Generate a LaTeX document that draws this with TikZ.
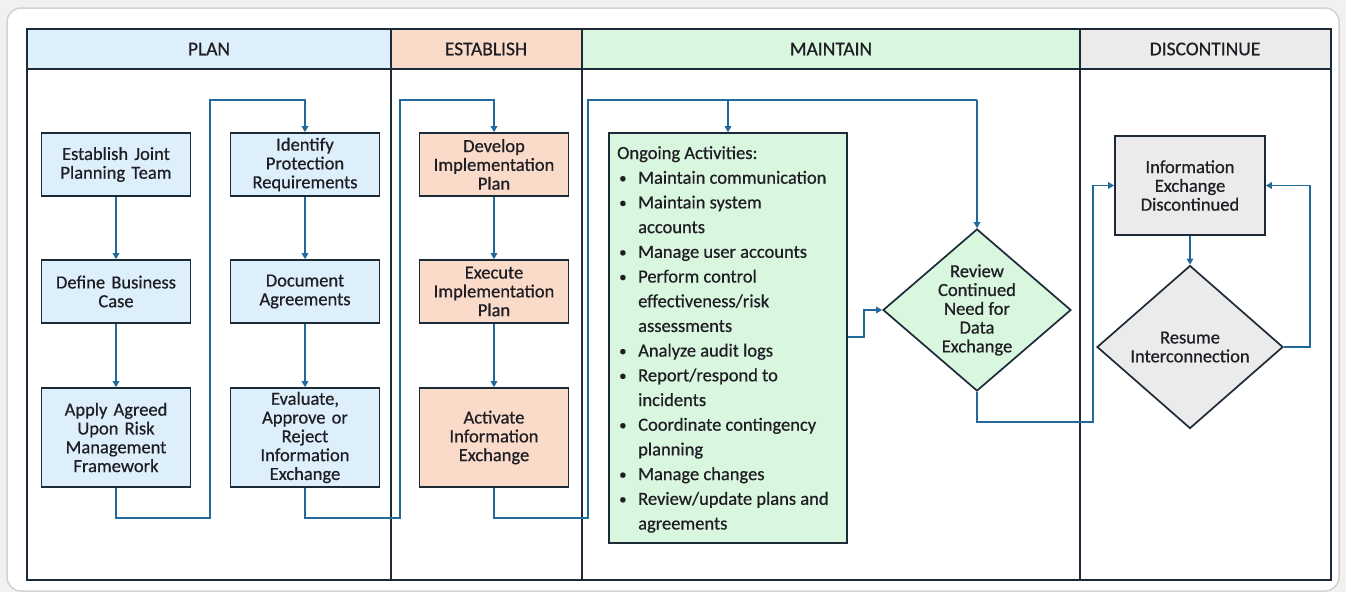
\documentclass[tikz,border=0pt]{standalone}
\usepackage{fontspec}
\setmainfont{Carlito}[FakeBold=0.6]
\usetikzlibrary{arrows.meta,shapes.geometric}
\definecolor{bord}{HTML}{1C2A38}
\definecolor{txt}{HTML}{1E1E24}
\definecolor{conn}{HTML}{21699A}
\definecolor{planc}{HTML}{DDEFFB}
\definecolor{estc}{HTML}{FADBCA}
\definecolor{maintc}{HTML}{D9F6DF}
\definecolor{discc}{HTML}{EBEBEB}
\definecolor{bgc}{HTML}{F1F1F1}
\definecolor{framec}{HTML}{D2D2D2}
\newcommand{\blt}{\hspace{2pt}\raisebox{0.8pt}{\scalebox{0.8}{\textbullet}}}
\begin{document}
\begin{tikzpicture}[x=1pt,y=-1pt,
  tbl/.style={draw=bord, line width=1.8pt},
  hdr/.style={font=\fontsize{19.5}{21}\selectfont, text=txt},
  boxbase/.style={draw=bord, line width=1.7pt, inner sep=1pt, align=center,
    font=\fontsize{18.5}{18.8}\selectfont, text=txt},
  box/.style={boxbase, rectangle, minimum width=149pt, minimum height=63pt, text width=145pt},
  tallbox/.style={box, minimum height=99pt},
  dia/.style={boxbase, diamond, inner sep=0pt},
  conn/.style={draw=conn, line width=1.7pt, -{Triangle[length=6pt,width=6.5pt]}},
  plainconn/.style={draw=conn, line width=1.7pt}]
\useasboundingbox (0,0) rectangle (1346,592);
\fill[bgc] (0,0) rectangle (1346,592);
\draw[framec, line width=1.5pt, fill=white, rounded corners=14pt] (7,8) rectangle (1339,591);
% header fills
\fill[planc] (27,29) rectangle (391,69);
\fill[estc] (391,29) rectangle (582,69);
\fill[maintc] (582,29) rectangle (1080,69);
\fill[discc] (1080,29) rectangle (1331,69);
\draw[tbl] (27,29) rectangle (1331,580);
\draw[tbl] (27,69) -- (1331,69);
\draw[tbl] (391,29) -- (391,580);
\draw[tbl] (582,29) -- (582,580);
\draw[tbl] (1080,29) -- (1080,580);
\node[hdr] (hplan) at (209,49) {PLAN};
\node[hdr] (hest) at (486,49) {ESTABLISH};
\node[hdr] (hmaint) at (831,49) {MAINTAIN};
\node[hdr] (hdisc) at (1205,49) {DISCONTINUE};
% PLAN
\node[box, fill=planc] (est) at (116,164.5) {Establish Joint\\Planning Team};
\node[box, fill=planc] (def) at (116,291.5) {Define Business\\Case};
\node[tallbox, fill=planc] (app) at (116,437.5) {Apply Agreed\\Upon Risk\\Management\\Framework};
\node[box, fill=planc] (idp) at (305,164.5) {Identify\\Protection\\Requirements};
\node[box, fill=planc] (doc) at (305,291.5) {Document\\Agreements};
\node[tallbox, fill=planc] (eva) at (305,437.5) {Evaluate,\\Approve or\\Reject\\Information\\Exchange};
% ESTABLISH
\node[box, fill=estc] (dev) at (494,164.5) {Develop\\Implementation\\Plan};
\node[box, fill=estc] (exe) at (494,291.5) {Execute\\Implementation\\Plan};
\node[tallbox, fill=estc] (act) at (494,437.5) {Activate\\Information\\Exchange};
% MAINTAIN
\node[boxbase, fill=maintc, minimum width=238pt, minimum height=410pt] (ong) at (728,338) {};
\node[anchor=base west, inner sep=0pt, font=\fontsize{18.5}{24.7}\selectfont, text=txt] (ongtxt) at (617,159)
{\begin{tabular}[t]{@{}p{21pt}@{}l@{}}
\multicolumn{2}{@{}l@{}}{Ongoing Activities:}\\
\blt & Maintain communication\\
\blt & Maintain system\\
 & accounts\\
\blt & Manage user accounts\\
\blt & Perform control\\
 & effectiveness/risk\\
 & assessments\\
\blt & Analyze audit logs\\
\blt & Report/respond to\\
 & incidents\\
\blt & Coordinate contingency\\
 & planning\\
\blt & Manage changes\\
\blt & Review/update plans and\\
 & agreements
\end{tabular}};
\node[dia, fill=maintc, aspect=1.16, minimum width=188pt, minimum height=162pt] (rev) at (977,310) {Review\\Continued\\Need for\\Data\\Exchange};
% DISCONTINUE
\node[tallbox, fill=discc, minimum width=150pt] (dis) at (1190,185.5) {Information\\Exchange\\Discontinued};
\node[dia, fill=discc, aspect=1.14, minimum width=186pt, minimum height=163pt] (res) at (1190,347) {Resume\\Interconnection};
% connectors
\draw[conn] (est) -- (def);
\draw[conn] (def) -- (app);
\draw[conn] (app.south) -- (116,518) -- (210,518) -- (210,100) -| (idp.north);
\draw[conn] (idp) -- (doc);
\draw[conn] (doc) -- (eva);
\draw[conn] (eva.south) -- (305,518) -- (400,518) -- (400,100) -| (dev.north);
\draw[conn] (dev) -- (exe);
\draw[conn] (exe) -- (act);
\draw[plainconn] (act.south) -- (494,518) -- (588,518) -- (588,100) -- (977,100);
\draw[conn] (728,100) -- (ong.north);
\draw[conn] (977,100) -- (rev.north);
\draw[conn] (ong.east |- 0,337) -- (864,337) -- (864,310) -- (rev.west);
\draw[conn] (rev.south) -- (977,422) -- (1093,422) -- (1093,185.5) -- (dis.west);
\draw[conn] (dis) -- (res);
\draw[conn] (res.east) -- (1310,347) -- (1310,185.5) -- (dis.east);
\end{tikzpicture}
\end{document}
